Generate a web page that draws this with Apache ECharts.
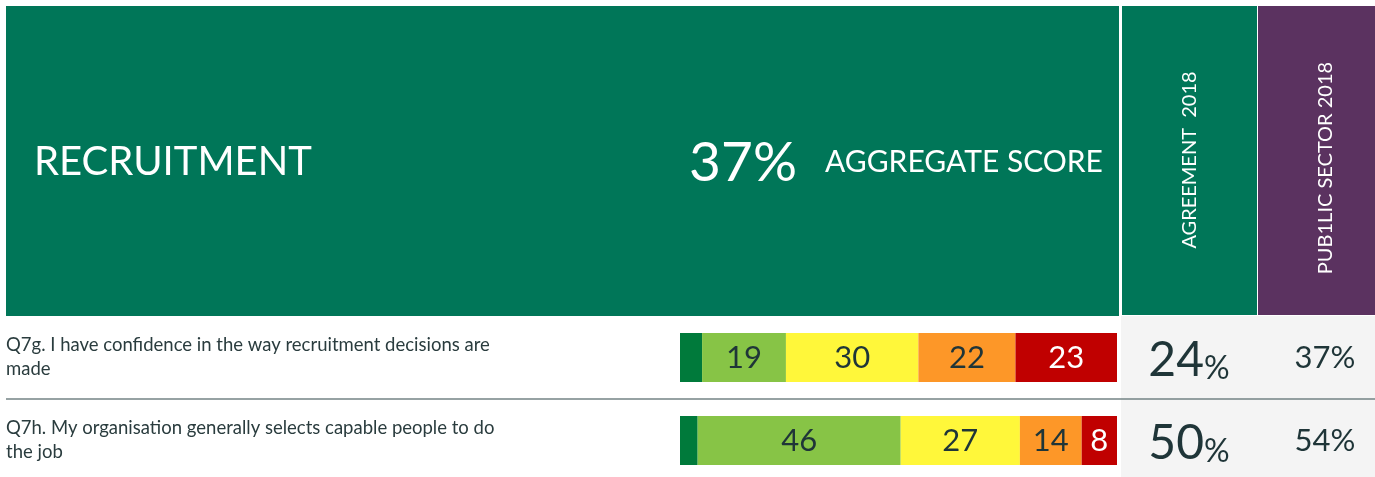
<!DOCTYPE html>
<html>
<head>
<meta charset="utf-8">
<script src="https://cdn.jsdelivr.net/npm/echarts@6/dist/echarts.min.js"></script>
<style>
  html, body { margin: 0; padding: 0; background: #ffffff; }
  #chart { width: 1375px; height: 477px; }
</style>
</head>
<body>
<div id="chart"></div>
<script>
// ---- data ----
var sectionTitle = 'RECRUITMENT';
var aggregateScore = 37;
var aggregateLabel = 'AGGREGATE SCORE';
var questions = [
  'Q7g. I have confidence in the way recruitment decisions are\nmade',
  'Q7h. My organisation generally selects capable people to do\nthe job'
];
var responseLevels = ['Strongly agree', 'Agree', 'Neutral', 'Disagree', 'Strongly disagree'];
var stronglyAgree = [5, 4];
var agree = [19, 46];
var neutral = [30, 27];
var disagree = [22, 14];
var stronglyDisagree = [23, 8];
var columnHeaders = ['AGREEMENT  2018', 'PUB1LIC SECTOR 2018'];
var agreement2018 = [24, 50];
var publicSector2018 = [37, 54];

// ---- styles ----
var FONT = 'Lato';
var DARK = '#1f3538';
var segColors = ['#007a3b', '#87c446', '#fff73a', '#fd9728', '#c00000'];
var segLabelColors = [null, DARK, DARK, DARK, '#ffffff'];
var seriesValues = [stronglyAgree, agree, neutral, disagree, stronglyDisagree];

var chart = echarts.init(document.getElementById('chart'), null, { renderer: 'canvas' });

var barSeries = seriesValues.map(function (vals, i) {
  return {
    name: responseLevels[i],
    type: 'bar',
    stack: 'resp',
    xAxisIndex: 0,
    yAxisIndex: 0,
    barWidth: 49,
    data: vals,
    itemStyle: { color: segColors[i] },
    label: {
      show: i > 0,
      position: 'inside',
      fontFamily: FONT,
      fontSize: 31,
      color: segLabelColors[i] || '#fff'
    },
    z: 5
  };
});

var pctRich = {
  a: { fontFamily: FONT, fontSize: 48, color: DARK, lineHeight: 52, verticalAlign: 'bottom' },
  b: { fontFamily: FONT, fontSize: 32, color: DARK, lineHeight: 42, verticalAlign: 'bottom' },
  c: { fontFamily: FONT, fontSize: 31, color: DARK, lineHeight: 40 }
};

var option = {
  animation: false,
  backgroundColor: '#ffffff',
  graphic: [
    { type: 'rect', shape: { x: 6, y: 6, width: 1113, height: 310 }, style: { fill: '#007658' }, z: 0 },
    { type: 'rect', shape: { x: 1122, y: 6, width: 135, height: 309 }, style: { fill: '#007658' }, z: 0 },
    { type: 'rect', shape: { x: 1258, y: 6, width: 117, height: 309 }, style: { fill: '#5b3260' }, z: 0 },
    { type: 'rect', shape: { x: 1121, y: 316, width: 254, height: 161 }, style: { fill: '#f4f4f4' }, z: 0 },
    { type: 'line', shape: { x1: 6, y1: 399, x2: 1375, y2: 399 }, style: { stroke: '#738384', lineWidth: 1.5 }, z: 1 },
    { type: 'text', x: 34, y: 162, style: { text: sectionTitle, fontFamily: FONT, fontSize: 40, fill: '#ffffff', textAlign: 'left', textVerticalAlign: 'middle' }, z: 2 },
    { type: 'text', x: 797, y: 163, style: { text: aggregateScore + '%', fontFamily: FONT, fontSize: 55, fill: '#ffffff', textAlign: 'right', textVerticalAlign: 'middle' }, z: 2 },
    { type: 'text', x: 825, y: 162, style: { text: aggregateLabel, fontFamily: FONT, fontSize: 30, fill: '#ffffff', textAlign: 'left', textVerticalAlign: 'middle' }, z: 2 },
    { type: 'text', x: 1190, y: 160, rotation: Math.PI / 2, style: { text: columnHeaders[0], fontFamily: FONT, fontSize: 20, fill: '#ffffff', textAlign: 'center', textVerticalAlign: 'middle' }, z: 2 },
    { type: 'text', x: 1326, y: 168, rotation: Math.PI / 2, style: { text: columnHeaders[1], fontFamily: FONT, fontSize: 20, fill: '#ffffff', textAlign: 'center', textVerticalAlign: 'middle' }, z: 2 }
  ],
  grid: [
    { left: 680, width: 437, top: 357.5, height: 83, containLabel: false },
    { left: 1189, width: 136, top: 359, height: 83, containLabel: false }
  ],
  xAxis: [
    { type: 'value', gridIndex: 0, min: 0, max: 99, show: false },
    { type: 'category', gridIndex: 1, data: columnHeaders, boundaryGap: false, show: false }
  ],
  yAxis: [
    {
      type: 'category', gridIndex: 0, data: questions, inverse: true, boundaryGap: false,
      axisLine: { show: false }, axisTick: { show: false }, splitLine: { show: false },
      axisLabel: {
        show: true, margin: 674, align: 'left',
        fontFamily: FONT, fontSize: 18.5, lineHeight: 24, color: '#2a3c3e'
      }
    },
    { type: 'category', gridIndex: 1, data: questions, inverse: true, boundaryGap: false, show: false }
  ],
  series: barSeries.concat([
    {
      type: 'scatter', xAxisIndex: 1, yAxisIndex: 1, symbolSize: 1,
      itemStyle: { color: 'rgba(0,0,0,0)', opacity: 1 },
      data: agreement2018.map(function (v, i) { return [0, i, v]; }),
      label: {
        show: true, position: 'inside', color: DARK, textBorderWidth: 0,
        formatter: function (p) { return '{a|' + p.value[2] + '}{b|%}'; },
        rich: pctRich
      },
      z: 6
    },
    {
      type: 'scatter', xAxisIndex: 1, yAxisIndex: 1, symbolSize: 1,
      itemStyle: { color: 'rgba(0,0,0,0)', opacity: 1 },
      data: publicSector2018.map(function (v, i) { return [1, i, v]; }),
      label: {
        show: true, position: 'inside', color: DARK, textBorderWidth: 0, offset: [0, -1],
        formatter: function (p) { return '{c|' + p.value[2] + '%}'; },
        rich: pctRich
      },
      z: 6
    }
  ])
};
chart.setOption(option);
</script>
</body>
</html>
